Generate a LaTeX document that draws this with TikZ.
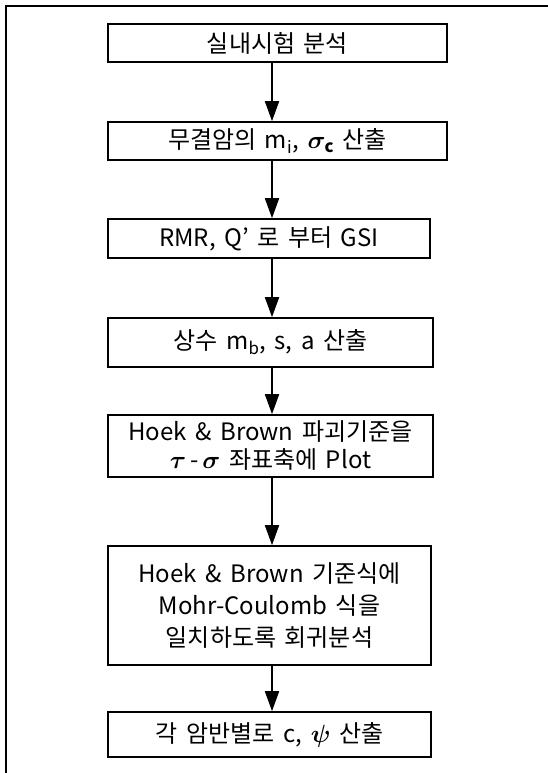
\documentclass[tikz,border=0pt]{standalone}
\usepackage{fontspec}
\setmainfont{Noto Sans CJK KR}[WordSpace={1.6}]
\usetikzlibrary{arrows.meta}
\begin{document}
\begin{tikzpicture}[x=1pt,y=-1pt,
  stepbox/.style={draw, line width=1.6pt, inner sep=0pt, align=center,
    font=\fontsize{24}{31}\selectfont},
  arr/.style={line width=1.8pt, -{Triangle[length=20pt,width=14pt]}},
  frame/.style={line width=1.4pt}]
\useasboundingbox (0,0) rectangle (548,773);
\draw[frame] (6,773) -- (6,6) -- (548,6);
\coordinate (ax) at (272,0);
\node[stepbox, minimum width=339pt, minimum height=38pt] (b1) at (277.5,43) {실내시험 분석};
\node[stepbox, minimum width=339pt, minimum height=38pt] (b2) at (277.5,141) {무결암의 m\textsubscript{i}, {\boldmath$\sigma_{\mathrm{c}}$} 산출};
\node[stepbox, minimum width=322pt, minimum height=39pt] (b3) at (269,238.5) {RMR, Q' 로 부터 GSI};
\node[stepbox, minimum width=325pt, minimum height=49pt] (b4) at (270.5,342.5) {상수 m\textsubscript{b}, s, a 산출};
\node[stepbox, minimum width=325pt, minimum height=62pt] (b5) at (270.5,446) {Hoek \& Brown 파괴기준을\\[-3pt] {\boldmath$\tau$}\,-\,{\boldmath$\sigma$} 좌표축에 Plot};
\node[stepbox, minimum width=323pt, minimum height=119pt] (b6) at (269.5,605.5) {Hoek \& Brown 기준식에\\[1pt] Mohr-Coulomb 식을\\[1pt] 일치하도록 회귀분석};
\node[stepbox, minimum width=323pt, minimum height=45pt] (b7) at (269.5,734.5) {각 암반별로 c, {\boldmath$\psi$} 산출};
\draw[arr] (b1.south -| ax) -- (b2.north -| ax);
\draw[arr] (b2.south -| ax) -- (b3.north -| ax);
\draw[arr] (b3.south -| ax) -- (b4.north -| ax);
\draw[arr] (b4.south -| ax) -- (b5.north -| ax);
\draw[arr] (b5.south -| ax) -- (b6.north -| ax);
\draw[arr] (b6.south -| ax) -- (b7.north -| ax);
\end{tikzpicture}
\end{document}
